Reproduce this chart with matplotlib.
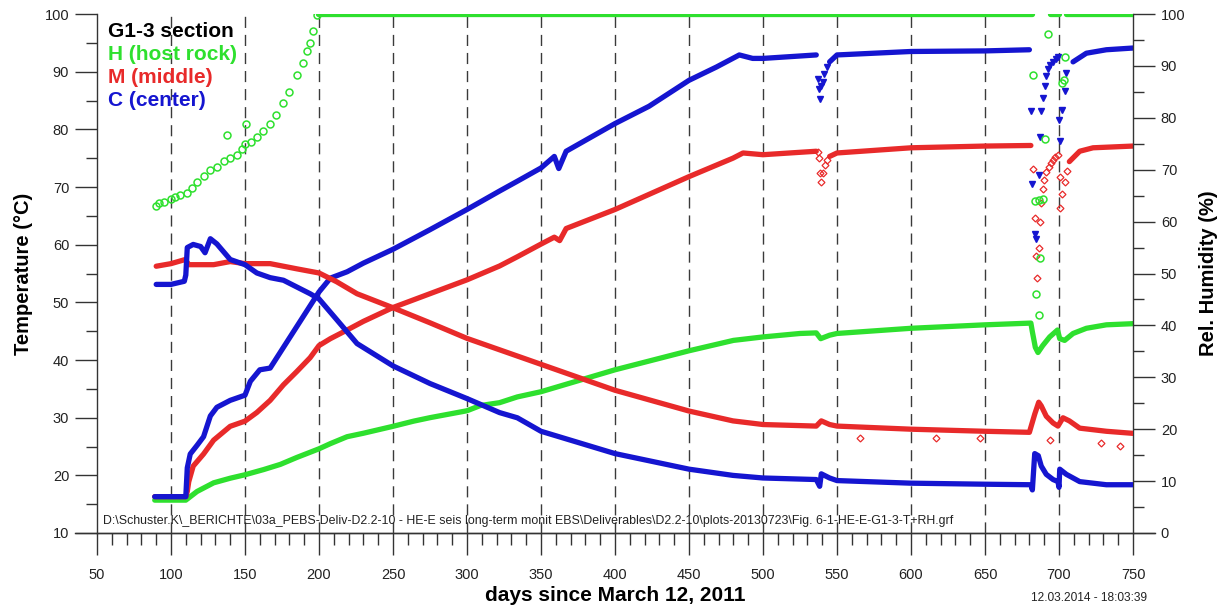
import numpy as np
import matplotlib
matplotlib.use("Agg")
import matplotlib.pyplot as plt
from matplotlib.ticker import MultipleLocator
from matplotlib.lines import Line2D

plt.rcParams['font.family'] = ['Liberation Sans', 'DejaVu Sans']

GREEN = '#2ee02e'
RED = '#e82a2a'
BLUE = '#1515d0'

# ---------------- Temperatures (left axis, deg C) ----------------
# H (host rock)
tH_day = [89, 110, 117.6, 128.8, 140, 150, 162.6, 173.9, 185, 200, 207.7, 219, 230, 250, 264, 275,
          300, 309, 322, 334, 350, 400, 450, 480, 500, 525, 536, 539, 545, 550, 600, 650, 681,
          682, 684, 685.8, 689, 693.7, 699, 700.5, 703.8, 709.5, 718.5, 732, 750]
tH_val = [15.7, 15.7, 17.2, 18.7, 19.5, 20.1, 21.0, 21.9, 23.1, 24.6, 25.5, 26.7, 27.3, 28.5, 29.4, 30.0,
          31.2, 32.1, 32.6, 33.6, 34.5, 38.3, 41.6, 43.4, 44.0, 44.6, 44.7, 43.7, 44.3, 44.6, 45.5, 46.1, 46.4,
          44.9, 42.2, 41.3, 42.5, 44.0, 45.2, 43.7, 43.4, 44.6, 45.5, 46.1, 46.3]

# M (middle)
tM_day = [89, 110, 111, 112, 115, 122, 128.8, 140, 150, 158, 167, 176, 185, 194, 200, 207.7, 219, 230,
          250, 275, 300, 322, 334, 350, 359, 362.6, 367, 400, 450, 479.7, 486.5, 500, 536]
tM_val = [16.3, 16.3, 17.2, 18.9, 21.6, 23.7, 26.1, 28.5, 29.4, 30.9, 33.0, 35.7, 38.0, 40.4, 42.5, 43.7,
          45.2, 46.7, 49.1, 51.5, 53.9, 56.3, 57.9, 60.1, 61.3, 60.7, 62.8, 66.1, 71.8, 75.0, 75.9, 75.6,
          76.2]
tM_dip1_day = [537, 538, 538.8, 539.4, 540.3, 541.7, 543]
tM_dip1_val = [76.0, 75.0, 72.5, 70.9, 72.4, 73.8, 74.7]
tM_mid_day = [545, 550, 600, 650, 681]
tM_mid_val = [75.3, 75.9, 76.8, 77.1, 77.2]
tM_dip_day = [682.4, 683.6, 684.7, 685.2, 686.3, 687, 688, 689, 690.2, 691.4, 693, 694.5, 696, 697.6,
              699.3, 700.5, 701, 702.3, 703.8, 705.2]
tM_dip_val = [73.2, 64.6, 58.0, 54.2, 59.5, 64.0, 67.2, 69.7, 71.2, 72.6, 73.4, 74.1, 74.7, 75.2,
              75.6, 71.8, 66.4, 68.8, 70.9, 72.8]
tM_end_day = [707, 714, 723, 750]
tM_end_val = [74.4, 76.2, 76.8, 77.1]

# C (center)
tC_day = [89, 110, 111, 113, 117.6, 122, 126.6, 131, 140, 150, 153.6, 160, 167, 176, 185, 194, 200,
          207.7, 219, 230, 250, 275, 300, 322, 334, 350, 359, 362, 367, 400, 423, 450, 468.5, 484, 493,
          500, 536]
tC_val = [16.3, 16.3, 21.3, 23.7, 25.2, 26.7, 30.3, 31.8, 33.0, 33.9, 36.3, 38.3, 38.6, 42.2, 45.8, 49.4,
          51.8, 54.2, 55.3, 56.8, 59.2, 62.6, 66.1, 69.3, 71.0, 73.3, 75.3, 73.2, 76.2, 81.0, 84.0, 88.5,
          90.8, 92.9, 92.3, 92.3, 92.9]
tC_dip1_day = [537, 537.8, 538.7, 539.5, 540.5, 541.5, 543]
tC_dip1_val = [88.8, 87.0, 85.2, 87.5, 88.2, 89.6, 90.8]
tC_mid_day = [545, 550, 600, 650, 680]
tC_mid_val = [91.7, 92.9, 93.5, 93.6, 93.8]
tC_dip_day = [681, 682, 683.6, 684.7, 686.3, 687, 688, 689, 690.5, 691.5, 692.6, 694, 696, 697.7,
              699.3, 700, 700.5, 702.3, 703.8, 705]
tC_dip_val = [83.1, 70.6, 61.9, 61.0, 72.1, 78.6, 83.1, 85.5, 87.6, 89.2, 90.5, 91.2, 91.7, 92.2,
              92.6, 81.6, 78.0, 83.4, 86.7, 89.7]
tC_end_day = [709.5, 718.5, 732, 750]
tC_end_val = [91.7, 93.2, 93.8, 94.1]

# ---------------- Relative humidity (right axis, %) ----------------
# H (host rock)
rhH_early_day = [90, 92, 95, 100, 103, 106, 110.8, 114, 117.6, 122, 126.6, 131, 135.6, 137.8, 140, 144.6,
                 148, 150, 151, 154, 158, 162, 167, 171, 176, 180, 185, 189, 192, 194, 196, 198.6]
rhH_early_val = [63.1, 63.6, 63.8, 64.3, 64.8, 65.2, 65.6, 66.5, 67.6, 68.7, 70.0, 70.6, 71.6, 76.6, 72.3, 72.9,
                 74.0, 74.9, 78.9, 75.3, 76.3, 77.5, 78.9, 80.5, 82.9, 85.0, 88.2, 90.6, 92.8, 94.5, 96.8, 99.8]
rhH_flat1_day = [199, 682]
rhH_flat1_val = [100, 100]
rhH_dip_day = [682.4, 683.6, 684.7, 686.5, 686.8, 687, 689, 690.5, 692.6, 702.3, 703.4, 703.8]
rhH_dip_val = [88.2, 64.0, 46.1, 42.1, 64.1, 52.9, 64.3, 75.9, 96.2, 86.7, 87.2, 91.8]
rhH_flat2_day = [693.7, 700]
rhH_flat2_val = [100, 100]
rhH_flat3_day = [705, 750]
rhH_flat3_val = [100, 100]

# M (middle)
rhM_day = [90, 100, 109.7, 112, 117.6, 128.8, 140, 150, 167, 185, 200, 212, 225.7, 250, 275, 300, 322, 334,
           350, 400, 450, 479.7, 500, 536, 539.4, 545, 550, 600, 650, 680, 683.6, 686.3, 688, 691.4, 696,
           699.3, 702.7, 707, 714, 732, 750]
rhM_val = [51.4, 51.9, 52.7, 51.7, 51.7, 51.7, 52.3, 51.9, 51.9, 50.9, 50.1, 48.4, 46.1, 43.4, 40.5, 37.5,
           35.3, 34.1, 32.5, 27.5, 23.5, 21.6, 20.9, 20.6, 21.6, 20.9, 20.6, 20.0, 19.6, 19.4, 22.9, 25.2,
           24.5, 22.5, 21.2, 20.6, 22.2, 21.6, 20.2, 19.6, 19.2]
rhM_out_day = [565.8, 616.7, 646.8, 693.7, 728.6, 741]
rhM_out_val = [18.4, 18.4, 18.4, 18.0, 17.4, 16.7]

# C (center)
rhC_day = [90, 100, 109, 110, 111, 115, 120, 123, 126.6, 131, 140, 150, 158, 167, 176, 185, 194, 200, 212,
           225.7, 250, 275, 300, 322, 334, 350, 400, 450, 479.7, 500, 536, 538.3, 539.4, 545, 550, 600, 650,
           681, 682, 683.6, 686, 688, 691.4, 696, 699.3, 700, 700.5, 705, 714, 732, 750]
rhC_val = [47.9, 47.9, 48.5, 49.7, 55.0, 55.6, 55.2, 54.0, 56.7, 55.7, 52.7, 51.7, 50.1, 49.2, 48.7, 47.4,
           46.1, 45.1, 41.1, 36.5, 32.2, 28.8, 25.9, 23.2, 22.2, 19.6, 15.3, 12.3, 11.1, 10.6, 10.3, 9.0,
           11.4, 10.6, 10.1, 9.6, 9.4, 9.3, 8.3, 15.3, 14.9, 12.9, 11.3, 10.3, 9.9, 8.8, 12.3, 11.3, 9.9,
           9.3, 9.3]

x_major = list(range(50, 751, 50))
grid_days = list(range(100, 701, 50))

# ---------------- Figure ----------------
fig = plt.figure(figsize=(12.27, 6.08), dpi=100)
ax = fig.add_axes([97 / 1227, 1 - 533 / 608, (1133 - 97) / 1227, (533 - 14) / 608])
ax2 = ax.twinx()

ax.set_xlim(50, 750)
ax.set_ylim(10, 100)
ax2.set_ylim(0, 100)

LW = 3.8
band = dict(lw=LW, solid_capstyle='round', solid_joinstyle='round', zorder=3)
dia = dict(ls='none', marker='D', ms=3.5, mfc='none', mew=0.9, zorder=3)
tri = dict(ls='none', marker='v', ms=4.5, zorder=3)
circ = dict(ls='none', marker='o', ms=5, mfc='none', mew=1.1, zorder=3)

# vertical dashed lines
for d in grid_days:
    ax.axvline(d, color='#3a3a3a', lw=1.0, dashes=(8, 5), zorder=0)

# Temperatures
ax.plot(tH_day, tH_val, color=GREEN, **band)
ax.plot(tM_day, tM_val, color=RED, **band)
ax.plot(tM_dip1_day, tM_dip1_val, mec=RED, **dia)
ax.plot(tM_mid_day, tM_mid_val, color=RED, **band)
ax.plot(tM_dip_day, tM_dip_val, mec=RED, **dia)
ax.plot(tM_end_day, tM_end_val, color=RED, **band)
ax.plot(tC_day, tC_val, color=BLUE, **band)
ax.plot(tC_dip1_day, tC_dip1_val, color=BLUE, **tri)
ax.plot(tC_mid_day, tC_mid_val, color=BLUE, **band)
ax.plot(tC_dip_day, tC_dip_val, color=BLUE, **tri)
ax.plot(tC_end_day, tC_end_val, color=BLUE, **band)

# Relative humidity
ax2.plot(rhH_early_day, rhH_early_val, mec=GREEN, **circ)
for dd, vv in [(rhH_flat1_day, rhH_flat1_val), (rhH_flat2_day, rhH_flat2_val), (rhH_flat3_day, rhH_flat3_val)]:
    ax2.plot(dd, vv, color=GREEN, **band)
ax2.plot(rhH_dip_day, rhH_dip_val, mec=GREEN, **circ)
ax2.plot(rhM_day, rhM_val, color=RED, **band)
ax2.plot(rhM_out_day, rhM_out_val, mec=RED, **dia)
ax2.plot(rhC_day, rhC_val, color=BLUE, **band)

# ---------------- Axes styling ----------------
spine_c = '#333333'
for a in (ax, ax2):
    a.spines['top'].set_visible(False)
    for s in a.spines.values():
        s.set_color(spine_c)
        s.set_linewidth(1.0)
ax.spines['right'].set_visible(False)
ax2.spines['left'].set_visible(False)
ax2.spines['bottom'].set_visible(False)

ax.set_xticks(x_major)
ax.xaxis.set_minor_locator(MultipleLocator(10))
ax.yaxis.set_major_locator(MultipleLocator(10))
ax.yaxis.set_minor_locator(MultipleLocator(5))
ax2.yaxis.set_major_locator(MultipleLocator(10))
ax2.yaxis.set_minor_locator(MultipleLocator(5))

ax.tick_params(axis='x', which='major', direction='out', length=16, width=1.0, color=spine_c,
               labelsize=10.5, labelcolor='#222222', pad=9)
ax.tick_params(axis='x', which='minor', direction='out', length=8.5, width=1.0, color=spine_c)
ax.tick_params(axis='y', which='major', direction='out', length=16, width=1.0, color=spine_c,
               labelsize=10.5, labelcolor='#222222', pad=4)
ax.tick_params(axis='y', which='minor', direction='out', length=8, width=1.0, color=spine_c)
ax2.tick_params(axis='y', which='major', direction='out', length=16, width=1.0, color=spine_c,
                labelsize=10.5, labelcolor='#222222', pad=4)
ax2.tick_params(axis='y', which='minor', direction='out', length=8, width=1.0, color=spine_c)

# extend bottom axis line beyond the side axes
ax.add_line(Line2D([-0.021, 1.021], [0, 0], transform=ax.transAxes, color=spine_c, lw=1.0, clip_on=False))

ax.set_xlabel('days since March 12, 2011', fontsize=15, fontweight='bold', labelpad=3)
ax.set_ylabel('Temperature (°C)', fontsize=14.5, fontweight='bold', labelpad=8)
ax2.set_ylabel('Rel. Humidity (%)', fontsize=14.5, fontweight='bold', labelpad=10)

# in-plot legend text
ax.text(0.011, 0.966, 'G1-3 section', transform=ax.transAxes, fontsize=15, fontweight='bold',
        color='black', va='center', ha='left')
ax.text(0.011, 0.922, 'H (host rock)', transform=ax.transAxes, fontsize=15, fontweight='bold',
        color=GREEN, va='center', ha='left')
ax.text(0.011, 0.878, 'M (middle)', transform=ax.transAxes, fontsize=15, fontweight='bold',
        color=RED, va='center', ha='left')
ax.text(0.011, 0.833, 'C (center)', transform=ax.transAxes, fontsize=15, fontweight='bold',
        color=BLUE, va='center', ha='left')

ax.text(0.006, 0.023,
        'D:\\Schuster.K\\_BERICHTE\\03a_PEBS-Deliv-D2.2-10 - HE-E seis long-term monit EBS\\Deliverables'
        '\\D2.2-10\\plots-20130723\\Fig. 6-1-HE-E-G1-3-T+RH.grf',
        transform=ax.transAxes, fontsize=8.9, color='#222222', va='center', ha='left')
fig.text(1147 / 1227, 1 - 598 / 608, '12.03.2014 - 18:03:39', fontsize=8.6, color='#222222',
         ha='right', va='center')

fig.savefig('out.png', dpi=100)
